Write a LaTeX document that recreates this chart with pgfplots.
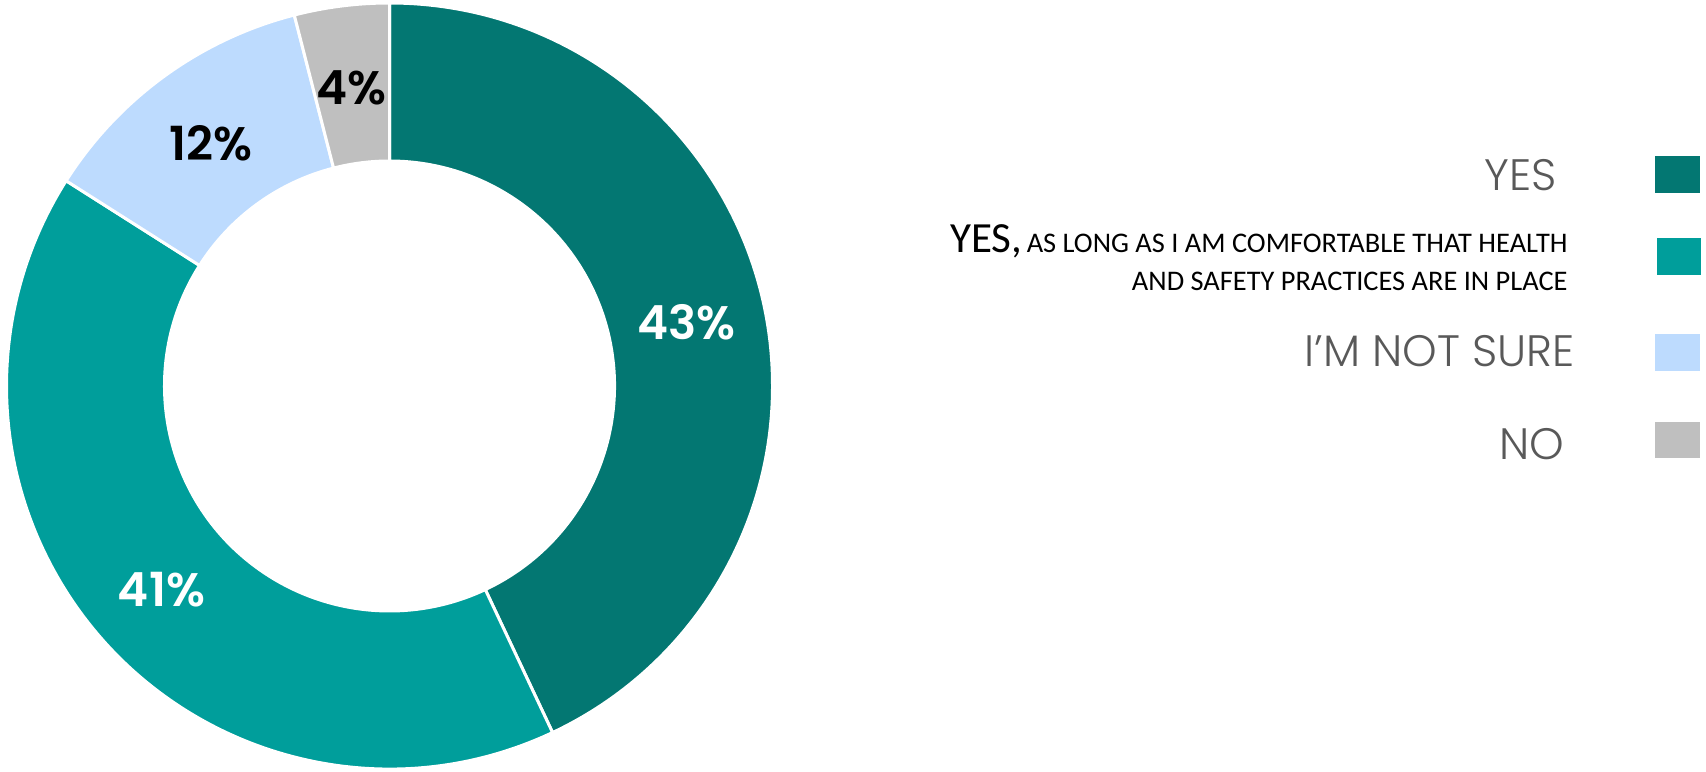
\documentclass[border=0pt]{standalone}
\usepackage{fontspec}
\setmainfont{Poppins}
\newfontfamily\lightfont{Poppins Light}
\newfontfamily\semifont{Poppins SemiBold}
\newfontfamily\calib{Carlito}
\usepackage{pgfplots}
\pgfplotsset{compat=1.18}
\usepackage{pgfplotstable}
\definecolor{cYes}{HTML}{037772}
\definecolor{cYesC}{HTML}{009E9B}
\definecolor{cNS}{HTML}{BDDBFE}
\definecolor{cNo}{HTML}{BFBFBF}
\definecolor{legtxt}{HTML}{595959}
\newcommand\pct{\semifont\fontsize{23.5}{24}\selectfont}
\newcommand\leg{\lightfont\fontsize{22}{23}\selectfont}

\pgfplotstableread[col sep=comma]{
share,colour,textcol
43,cYes,white
41,cYesC,white
12,cNS,black
4,cNo,black
}\donut

\begin{document}
\begin{tikzpicture}
\begin{axis}[scale only axis, width=853pt, height=385.5pt,
  xmin=0, xmax=1706, ymin=0, ymax=771, hide axis, clip=false]
\coordinate (BL) at (axis cs:0,0);
\coordinate (TR) at (axis cs:1706,771);
\def\cx{389.5}\def\cy{385}\def\Rout{383}\def\Rin{225}\def\Rmid{304}
\gdef\cum{0}
\pgfplotsforeachungrouped \i in {0,...,3}{%
  \pgfplotstablegetelem{\i}{share}\of\donut \let\val\pgfplotsretval
  \pgfplotstablegetelem{\i}{colour}\of\donut \let\col\pgfplotsretval
  \pgfplotstablegetelem{\i}{textcol}\of\donut \let\tcol\pgfplotsretval
  \pgfmathsetmacro\angA{90-3.6*\cum}%
  \pgfmathsetmacro\angB{90-3.6*(\cum+\val)}%
  \pgfmathsetmacro\angM{(\angA+\angB)/2}%
  \pgfmathsetmacro\xO{\cx+\Rout*cos(\angA)}%
  \pgfmathsetmacro\yO{\cy+\Rout*sin(\angA)}%
  \pgfmathsetmacro\xI{\cx+\Rin*cos(\angB)}%
  \pgfmathsetmacro\yI{\cy+\Rin*sin(\angB)}%
  \pgfmathsetmacro\xL{\cx+\Rmid*cos(\angM)}%
  \pgfmathsetmacro\yL{\cy+\Rmid*sin(\angM)-3}%
  \edef\cmd{\noexpand\fill[\col, draw=white, line width=1.5pt, line join=miter]
     (axis cs:\xO,\yO) arc[start angle=\angA, end angle=\angB, radius=\Rout]
     -- (axis cs:\xI,\yI) arc[start angle=\angB, end angle=\angA, radius=\Rin] -- cycle;
     \noexpand\node[text=\tcol, font=\noexpand\pct, inner sep=0pt] at (axis cs:\xL,\yL) {\val\noexpand\%};}%
  \cmd
  \pgfmathsetmacro\newcum{\cum+\val}\xdef\cum{\newcum}%
}
% legend
\fill[cYes] (axis cs:1655,578) rectangle (axis cs:1700,615);
\fill[cYesC] (axis cs:1657,496) rectangle (axis cs:1701,533);
\fill[cNS] (axis cs:1655,400) rectangle (axis cs:1700,437);
\fill[cNo] (axis cs:1655,313) rectangle (axis cs:1700,349);
\node[anchor=base east, inner sep=0pt, text=legtxt, font=\leg] at (axis cs:1557,580) {YES};
\node[anchor=base east, inner sep=0pt, text=legtxt, font=\leg] at (axis cs:1575,404) {I’M NOT SURE};
\node[anchor=base east, inner sep=0pt, text=legtxt, font=\leg] at (axis cs:1565,311) {NO};
\node[anchor=base east, inner sep=0pt, text=black, font=\calib] at (axis cs:1568,518)
  {{\fontsize{21.5}{22}\selectfont YES,} {\fontsize{14.2}{15}\selectfont AS LONG AS I AM COMFORTABLE THAT HEALTH}};
\node[anchor=base east, inner sep=0pt, text=black, font=\calib\fontsize{14.2}{15}\selectfont] at (axis cs:1568,480)
  {AND SAFETY PRACTICES ARE IN PLACE};
\end{axis}
\pgfresetboundingbox
\useasboundingbox (BL) rectangle (TR);
\end{tikzpicture}
\end{document}
